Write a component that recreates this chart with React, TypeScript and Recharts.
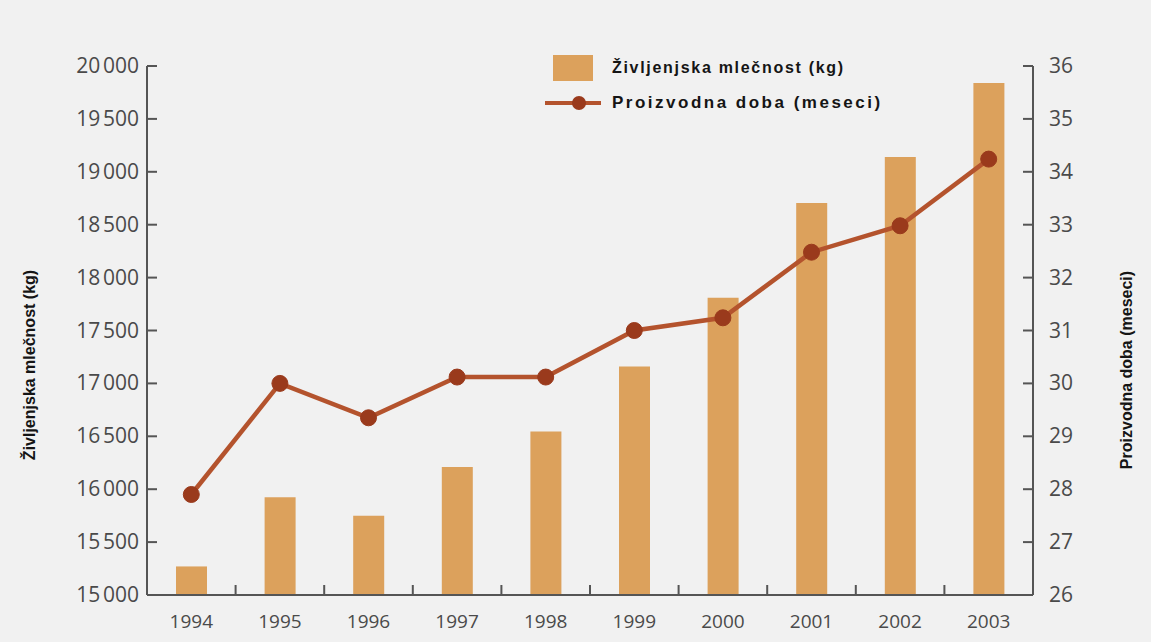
import { ComposedChart, Bar, Line, XAxis, YAxis } from 'recharts';

const years = ['1994', '1995', '1996', '1997', '1998', '1999', '2000', '2001', '2002', '2003'];
const milkKg = [15270, 15925, 15750, 16210, 16545, 17160, 17810, 18705, 19140, 19840];
const productiveMonths = [27.9, 30.0, 29.35, 30.12, 30.12, 31.0, 31.24, 32.48, 32.98, 34.24];
const leftTicks = [15000, 15500, 16000, 16500, 17000, 17500, 18000, 18500, 19000, 19500, 20000];
const rightTicks = [26, 27, 28, 29, 30, 31, 32, 33, 34, 35, 36];

const barColor = '#dca15c';
const lineColor = '#b4532d';
const dotColor = '#9a3a1c';
const axisColor = '#555555';
const tickColor = '#4a4a4a';
const tickFont = '"Open Sans", "Noto Sans", sans-serif';
const labelFont = '"Liberation Sans Narrow", "Liberation Sans", Arial, sans-serif';

const W = 1151;
const H = 642;
const leftW = 147;
const rightW = 118;
const bandHalf = (W - leftW - rightW) / years.length / 2;

const data = years.map((year, i) => ({
  year,
  milk: milkKg[i],
  months: productiveMonths[i],
}));

const fmtThousands = (v: number) => {
  const s = String(v);
  return s.slice(0, s.length - 3) + '\u202F' + s.slice(-3);
};

// ticks point inwards, x ticks sit between the years
function YearTick(props: any) {
  const { x, y, payload } = props;
  return (
    <g>
      <line x1={x - bandHalf} x2={x - bandHalf} y1={y} y2={y - 10} stroke={axisColor} strokeWidth={2} />
      <text x={x} y={y + 33} textAnchor="middle" fill={tickColor} fontSize={19} fontFamily={tickFont}>
        {payload.value}
      </text>
    </g>
  );
}

function LeftTick(props: any) {
  const { x, y, payload } = props;
  return (
    <g>
      <line x1={x} x2={x + 10} y1={y} y2={y} stroke={axisColor} strokeWidth={2} />
      <text x={x - 8} y={y + 7} textAnchor="end" fill={tickColor} fontSize={21} fontFamily={tickFont}>
        {fmtThousands(payload.value)}
      </text>
    </g>
  );
}

function RightTick(props: any) {
  const { x, y, payload } = props;
  return (
    <g>
      <line x1={x} x2={x - 10} y1={y} y2={y} stroke={axisColor} strokeWidth={2} />
      <text x={x + 16} y={y + 7} textAnchor="start" fill={tickColor} fontSize={21} fontFamily={tickFont}>
        {payload.value}
      </text>
    </g>
  );
}

function ChartLegend() {
  return (
    <div
      style={{
        position: 'absolute',
        left: 545,
        top: 53,
        fontFamily: labelFont,
        fontWeight: 700,
        fontSize: 16,
        color: '#151515',
      }}
    >
      <div style={{ display: 'flex', alignItems: 'center', height: 30, letterSpacing: 1.7 }}>
        <span style={{ display: 'inline-block', width: 40, height: 26, background: barColor, marginLeft: 8, marginRight: 19 }} />
        <span>Življenjska mlečnost (kg)</span>
      </div>
      <div style={{ display: 'flex', alignItems: 'center', height: 30, marginTop: 5, fontSize: 17, letterSpacing: 2.5 }}>
        <svg width={67} height={18}>
          <line x1={0} x2={56} y1={9} y2={9} stroke={lineColor} strokeWidth={4} />
          <circle cx={34} cy={9} r={7} fill={dotColor} />
        </svg>
        <span>Proizvodna doba (meseci)</span>
      </div>
    </div>
  );
}

const axisLabelStyle = {
  position: 'absolute' as const,
  transform: 'translate(-50%, -50%) rotate(-90deg)',
  whiteSpace: 'nowrap' as const,
  fontFamily: labelFont,
  fontWeight: 700,
  fontSize: 16,
  color: '#151515',
};

export default function App() {
  return (
    <div style={{ position: 'absolute', left: 0, top: 0, width: W, height: H, background: '#f1f1f1' }}>
      <ComposedChart width={W} height={H} data={data} margin={{ top: 66, right: 0, bottom: 0, left: 0 }}>
        <XAxis
          dataKey="year"
          height={47}
          tickLine={false}
          tickSize={0}
          tickMargin={0}
          axisLine={{ stroke: axisColor, strokeWidth: 2 }}
          tick={<YearTick />}
          interval={0}
        />
        <YAxis
          yAxisId="left"
          width={leftW}
          domain={[15000, 20000]}
          ticks={leftTicks}
          allowDataOverflow
          interval={0}
          tickLine={false}
          tickSize={0}
          tickMargin={0}
          axisLine={{ stroke: axisColor, strokeWidth: 2 }}
          tick={<LeftTick />}
        />
        <YAxis
          yAxisId="right"
          orientation="right"
          width={rightW}
          domain={[26, 36]}
          ticks={rightTicks}
          allowDataOverflow
          interval={0}
          tickLine={false}
          tickSize={0}
          tickMargin={0}
          axisLine={{ stroke: axisColor, strokeWidth: 2 }}
          tick={<RightTick />}
        />
        <Bar yAxisId="left" dataKey="milk" fill={barColor} barSize={31} isAnimationActive={false} />
        <Line
          yAxisId="right"
          dataKey="months"
          type="linear"
          stroke={lineColor}
          strokeWidth={4.5}
          dot={{ r: 8, fill: dotColor, stroke: dotColor, strokeWidth: 1 }}
          activeDot={false}
          isAnimationActive={false}
        />
      </ComposedChart>
      <ChartLegend />
      <div style={{ ...axisLabelStyle, left: 30, top: 365 }}>Življenjska mlečnost (kg)</div>
      <div style={{ ...axisLabelStyle, left: 1127, top: 370 }}>Proizvodna doba (meseci)</div>
    </div>
  );
}
